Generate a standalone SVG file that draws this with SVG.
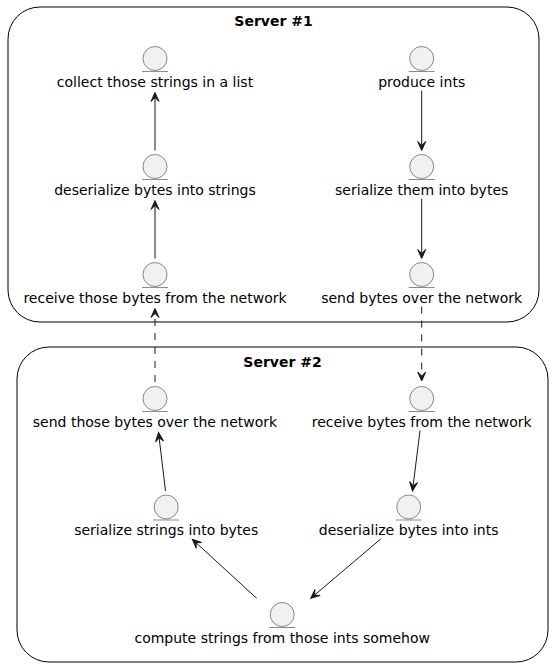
<svg xmlns="http://www.w3.org/2000/svg" width="553" height="667" viewBox="0 0 553 667">
<style>
.cluster{fill:none;stroke:#000000;stroke-width:1}
.title{font-family:"DejaVu Sans",sans-serif;font-size:14px;font-weight:bold;fill:#000000;text-anchor:middle}
.ent{fill:#F1F1F1;stroke:#181818;stroke-width:0.5}
.ul{stroke:#181818;stroke-width:0.5}
.lbl{font-family:"DejaVu Sans",sans-serif;font-size:14px;fill:#000000;text-anchor:middle}
.edge{stroke:#181818;stroke-width:1;fill:none;marker-end:url(#arr)}
.dash{stroke-dasharray:7,7}
</style>
<defs>
<marker id="arr" viewBox="0 -5 10 10" markerWidth="10" markerHeight="10" refX="4" refY="0" orient="auto" markerUnits="userSpaceOnUse" overflow="visible">
<path d="M9,0 L0,-4 L4,0 L0,4 Z" fill="#181818" stroke="#181818" stroke-width="1" stroke-linejoin="miter"/>
</marker>
</defs>
<rect x="0" y="0" width="553" height="667" fill="#FFFFFF"/>
<g id="server1">
<rect class="cluster" x="8" y="7" width="531" height="315" rx="32" ry="32"/>
<text class="title" x="273.5" y="26">Server #1</text>
</g>
<g id="server2">
<rect class="cluster" x="17" y="347" width="531" height="315" rx="32" ry="32"/>
<text class="title" x="282.5" y="366.5">Server #2</text>
</g>
<g id="collect">
<circle class="ent" cx="155" cy="58.5" r="12"/><line class="ul" x1="142" y1="71.5" x2="168" y2="71.5"/>
<text class="lbl" x="155" y="86.5">collect those strings in a list</text>
</g>
<g id="deserStr">
<circle class="ent" cx="155" cy="166.5" r="12"/><line class="ul" x1="142" y1="179.5" x2="168" y2="179.5"/>
<text class="lbl" x="155" y="194.5">deserialize bytes into strings</text>
</g>
<g id="recvThose">
<circle class="ent" cx="155" cy="274.5" r="12"/><line class="ul" x1="142" y1="287.5" x2="168" y2="287.5"/>
<text class="lbl" x="155" y="302.5">receive those bytes from the network</text>
</g>
<g id="produce">
<circle class="ent" cx="421.7" cy="58.5" r="12"/><line class="ul" x1="408.7" y1="71.5" x2="434.7" y2="71.5"/>
<text class="lbl" x="421.7" y="86.5">produce ints</text>
</g>
<g id="serThem">
<circle class="ent" cx="421.7" cy="166.5" r="12"/><line class="ul" x1="408.7" y1="179.5" x2="434.7" y2="179.5"/>
<text class="lbl" x="421.7" y="194.5">serialize them into bytes</text>
</g>
<g id="sendBytes">
<circle class="ent" cx="421.7" cy="274.5" r="12"/><line class="ul" x1="408.7" y1="287.5" x2="434.7" y2="287.5"/>
<text class="lbl" x="421.7" y="302.5">send bytes over the network</text>
</g>
<g id="sendThose">
<circle class="ent" cx="155" cy="398.5" r="12"/><line class="ul" x1="142" y1="411.5" x2="168" y2="411.5"/>
<text class="lbl" x="155" y="426.5">send those bytes over the network</text>
</g>
<g id="recvBytes">
<circle class="ent" cx="421.7" cy="398.5" r="12"/><line class="ul" x1="408.7" y1="411.5" x2="434.7" y2="411.5"/>
<text class="lbl" x="421.7" y="426.5">receive bytes from the network</text>
</g>
<g id="serStr">
<circle class="ent" cx="166.2" cy="507" r="12"/><line class="ul" x1="153.2" y1="520" x2="179.2" y2="520"/>
<text class="lbl" x="166.2" y="535">serialize strings into bytes</text>
</g>
<g id="deserInts">
<circle class="ent" cx="408.7" cy="507" r="12"/><line class="ul" x1="395.7" y1="520" x2="421.7" y2="520"/>
<text class="lbl" x="408.7" y="535">deserialize bytes into ints</text>
</g>
<g id="compute">
<circle class="ent" cx="282.2" cy="614.5" r="12"/><line class="ul" x1="269.2" y1="627.5" x2="295.2" y2="627.5"/>
<text class="lbl" x="282.2" y="642.5">compute strings from those ints somehow</text>
</g>
<g id="connectors">
<line class="edge" x1="155" y1="150.5" x2="155" y2="97.5"/>
<line class="edge" x1="155" y1="258.5" x2="155" y2="205.5"/>
<line class="edge" x1="421.7" y1="90.5" x2="421.7" y2="145.5"/>
<line class="edge" x1="421.7" y1="198.5" x2="421.7" y2="253.5"/>
<line class="edge dash" x1="421.7" y1="306.5" x2="421.7" y2="376"/>
<line class="edge dash" x1="155" y1="382" x2="155" y2="313.5"/>
<line class="edge" x1="165.5" y1="491" x2="159.1" y2="437.5"/>
<line class="edge" x1="420" y1="430.5" x2="413.1" y2="486"/>
<line class="edge" x1="380.7" y1="539" x2="314.5" y2="595.1"/>
<line class="edge" x1="256.7" y1="598.3" x2="196" y2="542.7"/>
</g>
</svg>
